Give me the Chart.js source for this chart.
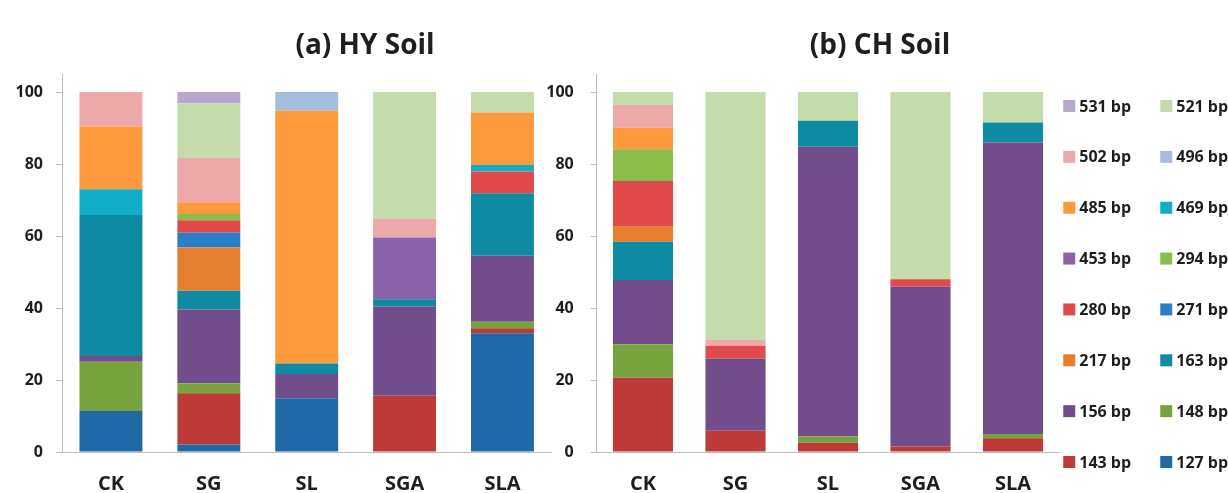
<!DOCTYPE html>
<html><head><meta charset="utf-8">
<script src="https://cdn.jsdelivr.net/npm/chart.js@4"></script>
<style>
html,body{margin:0;padding:0;background:#fff;overflow:hidden;width:1228px;height:493px;}
canvas{position:absolute;top:0;}
#c1{left:0;}
#c2{left:532px;}
</style></head><body>
<canvas id="c1" width="730" height="493"></canvas>
<canvas id="c2" width="696" height="493"></canvas>
<script>
// ---------- data ----------
const categories = ['CK', 'SG', 'SL', 'SGA', 'SLA'];
const seriesNames = ['127 bp','143 bp','148 bp','156 bp','163 bp','217 bp','271 bp','280 bp',
                     '294 bp','453 bp','469 bp','485 bp','496 bp','502 bp','521 bp','531 bp'];
const yTicks = [0, 20, 40, 60, 80, 100];
const titles = ['(a) HY Soil', '(b) CH Soil'];

// (a) HY soil, % per category
const hy127 = [11.4, 2.1, 14.9, 0, 33.0];
const hy143 = [0, 14.2, 0, 15.6, 1.4];
const hy148 = [13.7, 2.8, 0, 0, 1.8];
const hy156 = [1.6, 20.5, 6.8, 24.8, 18.3];
const hy163 = [39.1, 5.2, 2.9, 2.0, 17.4];
const hy217 = [0, 12.1, 0, 0, 0];
const hy271 = [0, 4.0, 0, 0, 0];
const hy280 = [0, 3.5, 0, 0, 6.0];
const hy294 = [0, 1.7, 0, 0, 0];
const hy453 = [0, 0, 0, 17.2, 0];
const hy469 = [7.2, 0, 0, 0, 1.8];
const hy485 = [17.4, 3.3, 70.2, 0, 14.6];
const hy496 = [0, 0, 5.2, 0, 0];
const hy502 = [9.6, 12.3, 0, 5.2, 0];
const hy521 = [0, 15.1, 0, 35.2, 5.7];
const hy531 = [0, 3.2, 0, 0, 0];

// (b) CH soil, % per category
const ch127 = [0, 0, 0, 0, 0];
const ch143 = [20.6, 5.9, 2.6, 1.5, 3.8];
const ch148 = [9.3, 0, 1.7, 0, 1.2];
const ch156 = [17.9, 20.1, 80.5, 44.4, 81.0];
const ch163 = [10.6, 0, 7.2, 0, 5.5];
const ch217 = [4.2, 0, 0, 0, 0];
const ch271 = [0, 0, 0, 0, 0];
const ch280 = [12.7, 3.5, 0, 2.1, 0];
const ch294 = [8.8, 0, 0, 0, 0];
const ch453 = [0, 0, 0, 0, 0];
const ch469 = [0, 0, 0, 0, 0];
const ch485 = [6.0, 0, 0, 0, 0];
const ch496 = [0, 0, 0, 0, 0];
const ch502 = [6.3, 1.6, 0, 0, 0];
const ch521 = [3.6, 68.9, 8.0, 52.0, 8.5];
const ch531 = [0, 0, 0, 0, 0];

const hySeries = [hy127,hy143,hy148,hy156,hy163,hy217,hy271,hy280,hy294,hy453,hy469,hy485,hy496,hy502,hy521,hy531];
const chSeries = [ch127,ch143,ch148,ch156,ch163,ch217,ch271,ch280,ch294,ch453,ch469,ch485,ch496,ch502,ch521,ch531];

// ---------- styles ----------
const seriesColors = ['#1F6AA6','#BD3A38','#77A33F','#714E8B','#0E8AA2','#E57F2F','#2B7FC9','#E04A4B',
                      '#8CBD4A','#8A63AA','#12AEC9','#FD9A3E','#A6BEDD','#EDA8AA','#C4DBAC','#B8A7CC'];
const FONT = 'Open Sans';
const TEXT = '#1e1e1e';
const AXIS = '#BDBDBD';

function makeDatasets(series, barPct) {
  return series.map((vals, i) => ({
    label: seriesNames[i],
    data: vals,
    backgroundColor: seriesColors[i],
    borderWidth: 0,
    barPercentage: barPct,
    categoryPercentage: 1.0
  }));
}

function makeOptions(title, yWidth, yPad, rightSpace) {
  return {
    responsive: false,
    animation: false,
    layout: { padding: 0 },
    plugins: {
      legend: { display: false },
      tooltip: { enabled: false },
      title: {
        display: true, text: title, color: TEXT,
        font: { family: FONT, weight: 'bold', size: 28 },
        padding: { top: 29, bottom: 11.4 }
      }
    },
    scales: {
      x: {
        stacked: true,
        afterFit(s) { s.height = 41; },
        grid: { display: false },
        border: { display: true, color: AXIS, width: 1 },
        ticks: { color: TEXT, font: { family: FONT, weight: 'bold', size: 20 }, padding: 12 }
      },
      y: {
        stacked: true, min: 0, max: 105,
        afterBuildTicks(s) { s.ticks = yTicks.map(v => ({ value: v })); },
        afterFit(s) { s.width = yWidth; },
        grid: { drawOnChartArea: false, drawTicks: true, tickLength: 6, color: AXIS },
        border: { display: true, color: AXIS, width: 1 },
        ticks: { color: TEXT, font: { family: FONT, weight: 'bold', size: 16 }, padding: yPad }
      },
      space: {
        type: 'linear', position: 'right', display: true,
        afterFit(s) { s.width = rightSpace; },
        grid: { display: false },
        border: { display: false },
        ticks: { display: false }
      }
    }
  };
}

const sideLegend = {
  id: 'sideLegend',
  afterDraw(chart) {
    const ctx = chart.ctx;
    const items = chart.data.datasets.map(d => ({ text: d.label, color: d.backgroundColor })).reverse();
    const x0 = chart.chartArea.right + 4;
    const colStep = 97;
    const y0 = 106, rowStep = 50.86;
    ctx.save();
    ctx.font = 'bold 16px "' + FONT + '"';
    ctx.textBaseline = 'middle';
    ctx.textAlign = 'left';
    items.forEach((it, k) => {
      const r = Math.floor(k / 2), c = k % 2;
      const x = x0 + c * colStep, y = y0 + r * rowStep;
      ctx.fillStyle = it.color;
      ctx.fillRect(x, y - 6, 12, 12);
      ctx.fillStyle = TEXT;
      ctx.fillText(it.text, x + 16, y + 1);
    });
    ctx.restore();
  }
};

new Chart(document.getElementById('c1'), {
  type: 'bar',
  data: { labels: categories, datasets: makeDatasets(hySeries, 0.643) },
  options: makeOptions(titles[0], 62, 13, 178.6)
});

new Chart(document.getElementById('c2'), {
  type: 'bar',
  data: { labels: categories, datasets: makeDatasets(chSeries, 0.65) },
  options: makeOptions(titles[1], 64.75, 17, 168.75),
  plugins: [sideLegend]
});
</script>
</body></html>
